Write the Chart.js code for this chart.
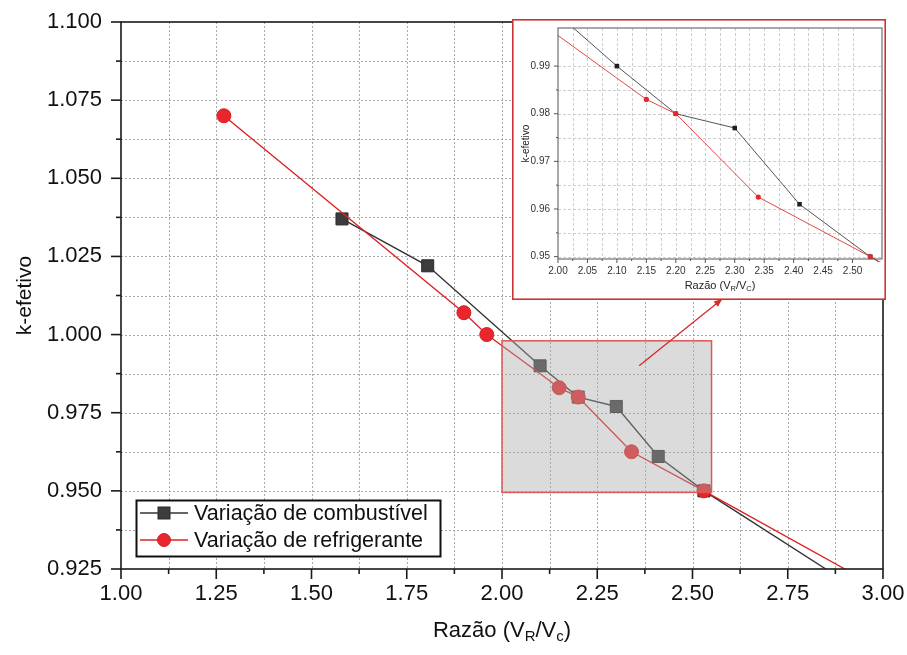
<!DOCTYPE html>
<html><head><meta charset="utf-8">
<script src="https://cdn.jsdelivr.net/npm/chart.js@4.4.0/dist/chart.umd.min.js"></script>
<style>
html,body{margin:0;padding:0;background:#fff;}
#wrap{position:relative;width:907px;height:655px;}
#main{position:absolute;left:0;top:0;}
#inset{position:absolute;left:512px;top:19px;}
</style></head><body>
<div id="wrap"><canvas id="main" width="907" height="655"></canvas><canvas id="inset" width="374" height="281"></canvas></div>
<script>
// ---- data ----
const fuelX = [1.58, 1.805, 2.10, 2.20, 2.30, 2.41, 2.53, 2.85];
const fuelY = [1.037, 1.022, 0.990, 0.980, 0.977, 0.961, 0.950, 0.925];
const coolX = [1.27, 1.90, 1.96, 2.15, 2.20, 2.34, 2.53, 2.90];
const coolY = [1.070, 1.007, 1.000, 0.983, 0.980, 0.9625, 0.950, 0.925];
const fuelLabel = 'Variação de combustível';
const coolLabel = 'Variação de refrigerante';
const xTickLabels = ['1.00','1.25','1.50','1.75','2.00','2.25','2.50','2.75','3.00'];
const yTickLabels = ['0.925','0.950','0.975','1.000','1.025','1.050','1.075','1.100'];
const insetXTickLabels = ['2.00','2.05','2.10','2.15','2.20','2.25','2.30','2.35','2.40','2.45','2.50'];
const insetYTickLabels = ['0.95','0.96','0.97','0.98','0.99'];
const yTitle = 'k-efetivo';
const xTitleParts = [['Razão (V',0],['R',1],['/V',0],['c',1],[')',0]];
const insetXTitleParts = [['Razão (V',0],['R',1],['/V',0],['C',1],[')',0]];
const zoomX = [2.00, 2.55];
const zoomY = [0.9495, 0.998];
const arrowFrom = [2.36, 0.990];
const arrowTo = [2.578, 1.0114];

const FONT = "'Liberation Sans', Arial, sans-serif";

function withMinors(labels){
  const v = labels.map(Number), out = [];
  for (let i=0;i<v.length;i++){ out.push(v[i]); if(i<v.length-1) out.push((v[i]+v[i+1])/2); }
  return out;
}
function labelFor(labels, val){
  const l = labels.find(s => Math.abs(Number(s)-val) < 1e-9);
  return l === undefined ? '' : l;
}
function toPts(xs, ys){ return xs.map((x,i)=>({x:x, y:ys[i]})); }
function noPad(s){ s.paddingTop=0; s.paddingBottom=0; s.paddingLeft=0; s.paddingRight=0; }

function drawParts(ctx, parts, cx, cy, size){
  const sub = size*0.68;
  let w = 0;
  parts.forEach(([t,s])=>{ ctx.font = (s?sub:size)+'px '+FONT; w += ctx.measureText(t).width; });
  let x = cx - w/2;
  ctx.textAlign='left'; ctx.textBaseline='middle';
  parts.forEach(([t,s])=>{
    ctx.font = (s?sub:size)+'px '+FONT;
    ctx.fillText(t, x, s ? cy + size*0.28 : cy);
    x += ctx.measureText(t).width;
  });
}

function gridAndTicks(chart, o){
  const {ctx, chartArea:a, scales:{x, y}} = chart;
  ctx.save();
  ctx.strokeStyle = o.gridColor; ctx.lineWidth = 1; ctx.setLineDash(o.dash);
  x.ticks.forEach(t=>{ const px = Math.round(x.getPixelForValue(t.value))+0.5;
    if (px<=a.left+1||px>=a.right-1) return;
    ctx.beginPath(); ctx.moveTo(px,a.top); ctx.lineTo(px,a.bottom); ctx.stroke(); });
  y.ticks.forEach(t=>{ const py = Math.round(y.getPixelForValue(t.value))+0.5;
    if (py<=a.top+1||py>=a.bottom-1) return;
    ctx.beginPath(); ctx.moveTo(a.left,py); ctx.lineTo(a.right,py); ctx.stroke(); });
  ctx.restore();
}
function frameAndTicks(chart, o){
  const {ctx, chartArea:a, scales:{x, y}} = chart;
  ctx.save();
  ctx.strokeStyle = o.frameColor; ctx.lineWidth = o.frameWidth; ctx.setLineDash([]);
  ctx.strokeRect(a.left, a.top, a.right-a.left, a.bottom-a.top);
  ctx.lineWidth = o.tickWidth;
  x.ticks.forEach(t=>{ const px = x.getPixelForValue(t.value);
    const L = t.label ? o.major : o.minor;
    ctx.beginPath(); ctx.moveTo(px,a.bottom); ctx.lineTo(px,a.bottom+L); ctx.stroke(); });
  y.ticks.forEach(t=>{ const py = y.getPixelForValue(t.value);
    const L = t.label ? o.major : o.minor;
    ctx.beginPath(); ctx.moveTo(a.left,py); ctx.lineTo(a.left-L,py); ctx.stroke(); });
  ctx.restore();
}

// ---------------- main chart ----------------
const mainDecor = {
  id:'mainDecor',
  beforeDatasetsDraw(chart){ gridAndTicks(chart,{gridColor:'#a9a9a9', dash:[2,2]}); },
  afterDatasetsDraw(chart){
    const {ctx, scales:{x,y}} = chart;
    const x0=x.getPixelForValue(zoomX[0]), x1=x.getPixelForValue(zoomX[1]);
    const y0=y.getPixelForValue(zoomY[1]), y1=y.getPixelForValue(zoomY[0]);
    ctx.save();
    ctx.fillStyle='rgba(170,170,170,0.42)';
    ctx.fillRect(x0,y0,x1-x0,y1-y0);
    ctx.strokeStyle='#e05555'; ctx.lineWidth=1.5;
    ctx.strokeRect(x0,y0,x1-x0,y1-y0);
    // arrow
    const ax=x.getPixelForValue(arrowFrom[0]), ay=y.getPixelForValue(arrowFrom[1]);
    const bx=x.getPixelForValue(arrowTo[0]), by=y.getPixelForValue(arrowTo[1]);
    ctx.strokeStyle='#d42a2a'; ctx.lineWidth=1.3;
    ctx.beginPath(); ctx.moveTo(ax,ay); ctx.lineTo(bx,by); ctx.stroke();
    const ang=Math.atan2(by-ay,bx-ax), h=9;
    ctx.fillStyle='#d42a2a'; ctx.beginPath();
    ctx.moveTo(bx,by);
    ctx.lineTo(bx-h*Math.cos(ang-0.4), by-h*Math.sin(ang-0.4));
    ctx.lineTo(bx-h*Math.cos(ang+0.4), by-h*Math.sin(ang+0.4));
    ctx.closePath(); ctx.fill();
    ctx.restore();
  },
  afterDraw(chart){
    const {ctx, chartArea:a} = chart;
    frameAndTicks(chart,{frameColor:'#1a1a1a', frameWidth:1.6, tickWidth:1.6, major:10, minor:5});
    ctx.save(); ctx.fillStyle='#111';
    ctx.translate(25,(a.top+a.bottom)/2); ctx.rotate(-Math.PI/2);
    ctx.font='21px '+FONT; ctx.textAlign='center'; ctx.textBaseline='middle';
    ctx.fillText(yTitle,0,0);
    ctx.restore();
    ctx.save(); ctx.fillStyle='#111';
    drawParts(ctx, xTitleParts, (a.left+a.right)/2, 631, 22);
    ctx.restore();
    // legend
    ctx.save();
    const lx=136.5, ly=500.5, lw=304, lh=56;
    ctx.fillStyle='#fff'; ctx.fillRect(lx,ly,lw,lh);
    ctx.strokeStyle='#111'; ctx.lineWidth=2; ctx.strokeRect(lx,ly,lw,lh);
    const rows=[[chart.data.datasets[0],513],[chart.data.datasets[1],540]];
    rows.forEach(([ds,ry])=>{
      ctx.strokeStyle=ds.borderColor; ctx.lineWidth=1.6;
      ctx.beginPath(); ctx.moveTo(140,ry); ctx.lineTo(188,ry); ctx.stroke();
      ctx.fillStyle=ds.pointBackgroundColor; ctx.strokeStyle=ds.pointBorderColor; ctx.lineWidth=1;
      if (ds.pointStyle==='rect'){ ctx.fillRect(158,ry-6,12,12); ctx.strokeRect(158,ry-6,12,12); }
      else { ctx.beginPath(); ctx.arc(164,ry,6.5,0,Math.PI*2); ctx.fill(); ctx.stroke(); }
      ctx.fillStyle='#111'; ctx.font='21.5px '+FONT; ctx.textAlign='left'; ctx.textBaseline='middle';
      ctx.fillText(ds.label,194,ry+1);
    });
    ctx.restore();
  }
};

function lastZero(r){ return c => c.dataIndex === c.dataset.data.length-1 ? 0 : r; }

new Chart(document.getElementById('main'), {
  type:'scatter',
  data:{ datasets:[
    { label:fuelLabel, data:toPts(fuelX,fuelY), showLine:true, order:1,
      borderColor:'#333333', borderWidth:1.4, pointStyle:'rect',
      pointRadius:lastZero(8.5), pointHoverRadius:lastZero(8.5),
      pointBackgroundColor:'#3d3d3d', pointBorderColor:'#2a2a2a', pointBorderWidth:1 },
    { label:coolLabel, data:toPts(coolX,coolY), showLine:true, order:0,
      borderColor:'#dd2222', borderWidth:1.4, pointStyle:'circle',
      pointRadius:lastZero(7), pointHoverRadius:lastZero(7),
      pointBackgroundColor:'#e8262b', pointBorderColor:'#d91d22', pointBorderWidth:1 }
  ]},
  options:{
    responsive:false, animation:false, events:[],
    layout:{padding:{top:22,right:24,left:0,bottom:0}},
    plugins:{legend:{display:false}, tooltip:{enabled:false}},
    scales:{
      x:{ type:'linear', min:1, max:3,
        afterBuildTicks:s=>{ s.ticks = withMinors(xTickLabels).map(v=>({value:v})); },
        afterFit:s=>{ s.height = 86; noPad(s); },
        ticks:{ callback:v=>labelFor(xTickLabels,v), autoSkip:false, maxRotation:0, minRotation:0,
          font:{family:FONT,size:22}, color:'#111', padding:12 },
        grid:{display:false, drawTicks:false}, border:{display:false} },
      y:{ type:'linear', min:0.925, max:1.1,
        afterBuildTicks:s=>{ s.ticks = withMinors(yTickLabels).map(v=>({value:v})); },
        afterFit:s=>{ s.width = 121; noPad(s); },
        ticks:{ callback:v=>labelFor(yTickLabels,v), autoSkip:false,
          font:{family:FONT,size:22}, color:'#111', padding:19 },
        grid:{display:false, drawTicks:false}, border:{display:false} }
    }
  },
  plugins:[mainDecor]
});

// ---------------- inset chart ----------------
const insetDecor = {
  id:'insetDecor',
  beforeDraw(chart){
    const {ctx,width,height}=chart;
    ctx.save(); ctx.fillStyle='#fff'; ctx.fillRect(0,0,width,height); ctx.restore();
  },
  beforeDatasetsDraw(chart){ gridAndTicks(chart,{gridColor:'#cfcfcf', dash:[3,2]}); },
  afterDraw(chart){
    const {ctx, chartArea:a, width, height} = chart;
    frameAndTicks(chart,{frameColor:'#555', frameWidth:1, tickWidth:1, major:4, minor:2});
    ctx.save(); ctx.fillStyle='#222';
    ctx.translate(14,(a.top+a.bottom)/2); ctx.rotate(-Math.PI/2);
    ctx.font='10px '+FONT; ctx.textAlign='center'; ctx.textBaseline='middle';
    ctx.fillText(yTitle,0,0);
    ctx.restore();
    ctx.save(); ctx.fillStyle='#222';
    drawParts(ctx, insetXTitleParts, (a.left+a.right)/2, 267, 11);
    ctx.restore();
    ctx.save(); ctx.strokeStyle='#cc3333'; ctx.lineWidth=1.6;
    ctx.strokeRect(0.8,0.8,width-1.6,height-1.6); ctx.restore();
  }
};

new Chart(document.getElementById('inset'), {
  type:'scatter',
  data:{ datasets:[
    { label:fuelLabel, data:toPts(fuelX,fuelY), showLine:true, order:1,
      borderColor:'#555555', borderWidth:1, pointStyle:'rect',
      pointRadius:lastZero(3.2), pointBackgroundColor:'#1e1e1e', pointBorderColor:'#1e1e1e', pointBorderWidth:0,
      clip:{left:0,top:0,right:3,bottom:3} },
    { label:coolLabel, data:toPts(coolX,coolY), showLine:true, order:0,
      borderColor:'#e04848', borderWidth:1, pointStyle:'circle',
      pointRadius:lastZero(2.6), pointBackgroundColor:'#e8262b', pointBorderColor:'#e8262b', pointBorderWidth:0,
      clip:{left:0,top:0,right:3,bottom:3} }
  ]},
  options:{
    responsive:false, animation:false, events:[],
    layout:{padding:{top:9,right:3,left:0,bottom:0}},
    plugins:{legend:{display:false}, tooltip:{enabled:false}},
    scales:{
      x:{ type:'linear', min:zoomX[0], max:zoomX[1],
        afterBuildTicks:s=>{ s.ticks = withMinors(insetXTickLabels).map(v=>({value:v})); },
        afterFit:s=>{ s.height = 41; noPad(s); },
        ticks:{ callback:v=>labelFor(insetXTickLabels,v), autoSkip:false, maxRotation:0, minRotation:0,
          font:{family:FONT,size:10}, color:'#333', padding:6 },
        grid:{display:false, drawTicks:false}, border:{display:false} },
      y:{ type:'linear', min:zoomY[0], max:zoomY[1],
        afterBuildTicks:s=>{ s.ticks = withMinors(insetYTickLabels).map(v=>({value:v})); },
        afterFit:s=>{ s.width = 46; noPad(s); },
        ticks:{ callback:v=>labelFor(insetYTickLabels,v), autoSkip:false,
          font:{family:FONT,size:10}, color:'#333', padding:8 },
        grid:{display:false, drawTicks:false}, border:{display:false} }
    }
  },
  plugins:[insetDecor]
});
</script>
</body></html>
